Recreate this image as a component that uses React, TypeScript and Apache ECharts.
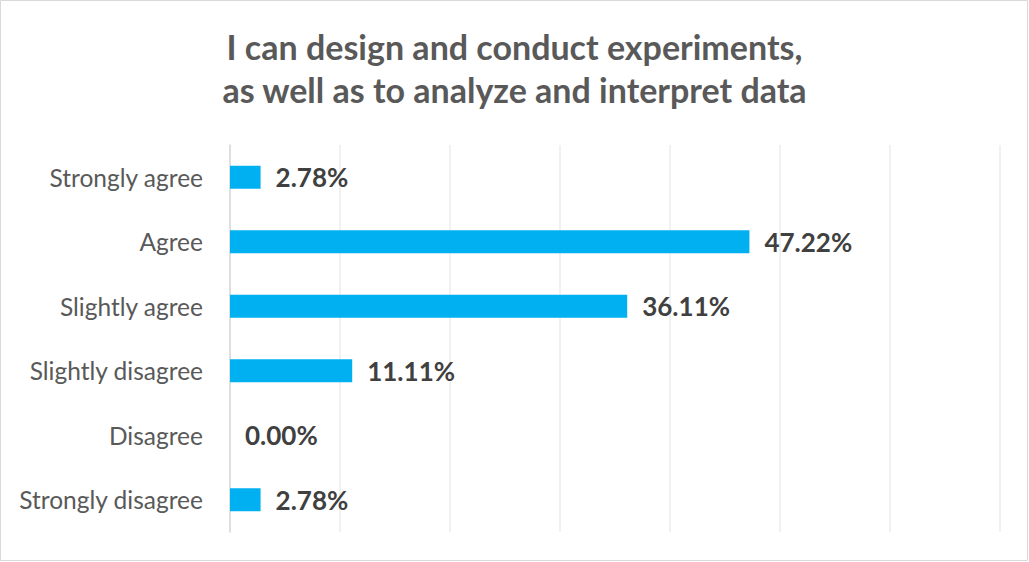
import React, { useEffect, useRef } from "react";
import * as echarts from "echarts";

const titleLines = ["I can design and conduct experiments,", "as well as to analyze and interpret data"];
const categories = ["Strongly agree", "Agree", "Slightly agree", "Slightly disagree", "Disagree", "Strongly disagree"];
const values = [2.78, 47.22, 36.11, 11.11, 0.0, 2.78];
const xMin = 0;
const xMax = 70;
const xInterval = 10;

const FONT = "Lato";

export default function App() {
  const ref = useRef<HTMLDivElement>(null);
  useEffect(() => {
    if (!ref.current) return;
    const chart = echarts.init(ref.current, undefined, { renderer: "svg" });
    chart.setOption({
      animation: false,
      backgroundColor: "#ffffff",
      title: {
        text: titleLines.join("\n"),
        left: "center",
        top: 20,
        textStyle: {
          fontFamily: FONT,
          fontWeight: "bold",
          fontSize: 34,
          color: "#595959",
          lineHeight: 43,
        },
      },
      grid: { left: 230, right: 29, top: 145, bottom: 30, containLabel: false },
      xAxis: {
        type: "value",
        min: xMin,
        max: xMax,
        interval: xInterval,
        axisLabel: { show: false },
        axisLine: { show: false },
        axisTick: { show: false },
        splitLine: { show: true, lineStyle: { color: "#ececec", width: 1.5 } },
      },
      yAxis: {
        type: "category",
        data: categories,
        inverse: true,
        axisLine: { show: true, lineStyle: { color: "#d9d9d9", width: 1.5 } },
        axisTick: { show: false },
        axisLabel: {
          margin: 27,
          fontFamily: FONT,
          fontSize: 24.5,
          color: "#595959",
        },
      },
      series: [
        {
          type: "bar",
          data: values,
          barWidth: 23,
          itemStyle: { color: "#00b0f0" },
          label: {
            show: true,
            position: "right",
            distance: 15,
            formatter: (p: any) => p.value.toFixed(2) + "%",
            fontFamily: FONT,
            fontWeight: "bold",
            fontSize: 26,
            color: "#404040",
          },
        },
      ],
      graphic: [
        {
          type: "rect",
          shape: { x: 0.5, y: 0.5, width: 1027, height: 560 },
          style: { fill: "none", stroke: "#d9d9d9", lineWidth: 1 },
          silent: true,
        },
      ],
    });
    return () => chart.dispose();
  }, []);
  return (
    <div
      ref={ref}
      style={{ position: "absolute", left: 0, top: 0, width: 1029, height: 562 }}
    />
  );
}
